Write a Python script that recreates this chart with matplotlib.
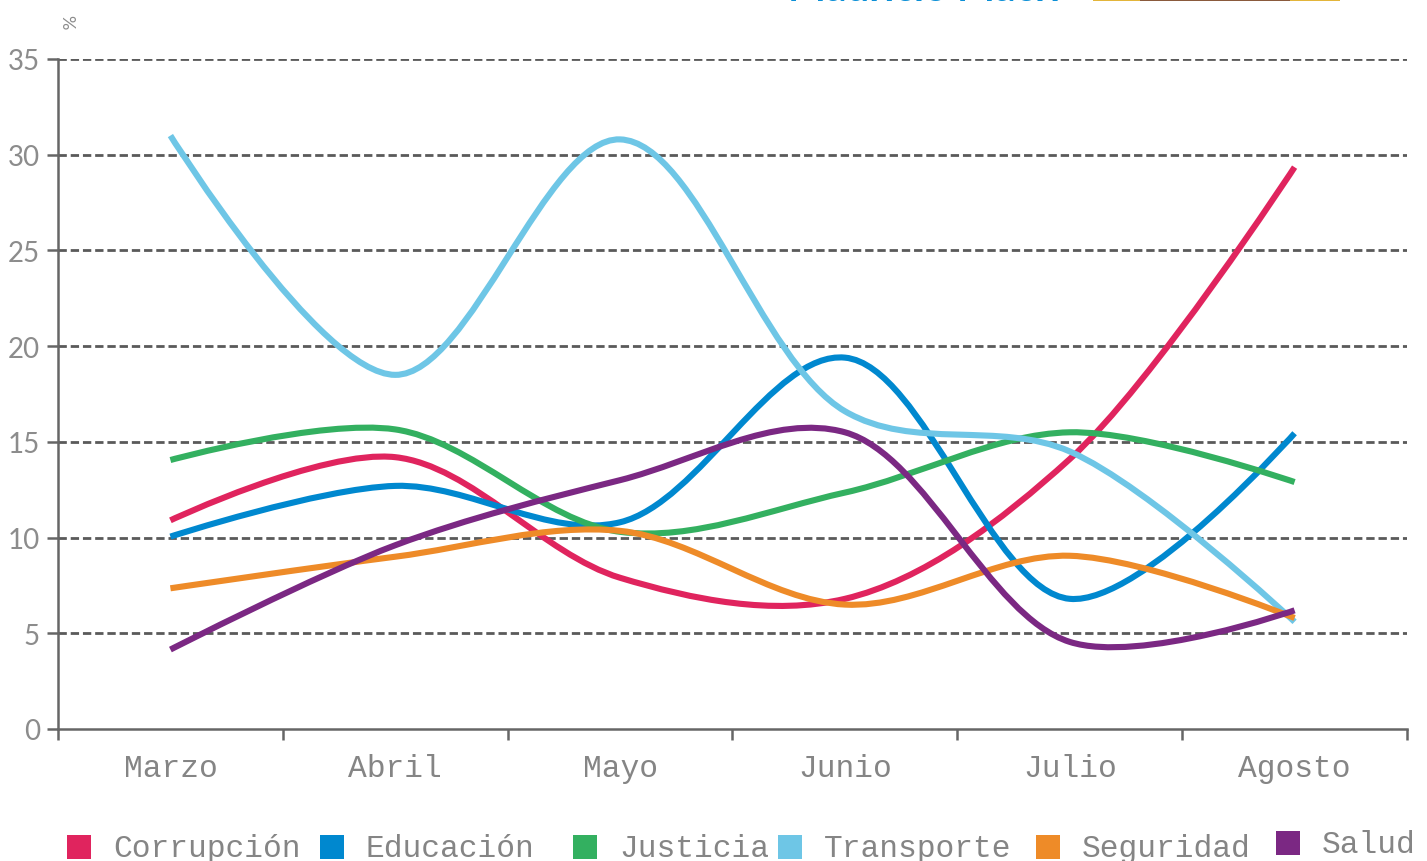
import numpy as np
import matplotlib
matplotlib.use('Agg')
import matplotlib.pyplot as plt
from matplotlib.path import Path
from matplotlib.patches import PathPatch, Rectangle
from matplotlib.ticker import FixedLocator, NullFormatter

# ---------------- data ----------------
months = ['Marzo', 'Abril', 'Mayo', 'Junio', 'Julio', 'Agosto']
series_names = ['Corrupción', 'Educación', 'Justicia', 'Transporte', 'Seguridad', 'Salud']
corrupcion = [10.9, 14.2, 7.9, 6.8, 14.1, 29.35]
educacion = [10.05, 12.7, 10.8, 19.4, 6.8, 15.45]
justicia = [14.05, 15.65, 10.3, 12.35, 15.5, 12.9]
transporte = [31.0, 18.5, 30.8, 16.6, 14.5, 5.6]
seguridad = [7.35, 9.0, 10.35, 6.5, 9.05, 5.8]
salud = [4.15, 9.6, 13.0, 15.5, 4.55, 6.2]
colors = ['#e0245e', '#0088cf', '#33b060', '#6ec6e6', '#ee8b28', '#7b2883']
y_ticks = [0, 5, 10, 15, 20, 25, 30, 35]

series = [corrupcion, educacion, justicia, transporte, seguridad, salud]

W, H = 1427, 862
fig = plt.figure(figsize=(W / 100, H / 100), dpi=100)
fig.patch.set_facecolor('white')
ax = fig.add_axes([58 / W, (H - 730) / H, (1407 - 58) / W, (730 - 60) / H])
n = len(months)
ax.set_xlim(-0.5, n - 0.5)
ax.set_ylim(0, 35)

# grid
for v in y_ticks[1:]:
    ax.axhline(v, color='#5a5a5a', lw=2.0, linestyle=(0, (3.0, 1.4)), zorder=1)


def catmull_rom(P, alpha=0.5):
    """d3.curveCatmullRom bezier construction in pixel space."""
    eps = 1e-12
    verts = [P[0]]
    codes = [Path.MOVETO]
    m = len(P)
    for i in range(m - 1):
        p1, p2 = P[i], P[i + 1]
        p0 = P[i - 1] if i > 0 else None
        p3 = P[i + 2] if i + 2 < m else None
        l12 = np.linalg.norm(p2 - p1) ** alpha
        l12_2 = l12 ** 2
        c1 = p1.copy()
        if p0 is not None:
            l01 = np.linalg.norm(p1 - p0) ** alpha
            l01_2 = l01 ** 2
            if l01 > eps:
                a = 2 * l01_2 + 3 * l01 * l12 + l12_2
                nn = 3 * l01 * (l01 + l12)
                c1 = (p1 * a - p0 * l12_2 + p2 * l01_2) / nn
        c2 = p2.copy()
        if p3 is not None:
            l23 = np.linalg.norm(p3 - p2) ** alpha
            l23_2 = l23 ** 2
            if l23 > eps:
                b = 2 * l23_2 + 3 * l23 * l12 + l12_2
                mm = 3 * l23 * (l23 + l12)
                c2 = (p2 * b + p1 * l23_2 - p3 * l12_2) / mm
        verts += [c1, c2, p2]
        codes += [Path.CURVE4] * 3
    return np.array(verts), codes


xs = np.arange(n)
inv = ax.transData.inverted()
for vals, col in zip(series, colors):
    pix = ax.transData.transform(np.column_stack([xs, vals]))
    v, c = catmull_rom([np.array(p) for p in pix])
    vd = inv.transform(v)
    patch = PathPatch(Path(vd, c), facecolor='none', edgecolor=col, lw=4.4,
                      capstyle='butt', joinstyle='round', zorder=3)
    ax.add_patch(patch)

# spines
for s in ['top', 'right']:
    ax.spines[s].set_visible(False)
for s in ['left', 'bottom']:
    ax.spines[s].set_color('#666666')
    ax.spines[s].set_linewidth(1.8)

# x ticks: marks at band edges, labels at centres
ax.xaxis.set_major_locator(FixedLocator(np.arange(-0.5, n, 1.0)))
ax.xaxis.set_major_formatter(NullFormatter())
ax.xaxis.set_minor_locator(FixedLocator(xs))
ax.set_xticklabels(months, minor=True)
ax.tick_params(axis='x', which='major', length=8, width=1.8, color='#666666', direction='out')
ax.tick_params(axis='x', which='minor', length=0, pad=17, labelsize=22.5,
               labelcolor='#858585')
for t in ax.get_xticklabels(minor=True):
    t.set_fontfamily('Liberation Mono')

ax.set_yticks(y_ticks)
ax.set_yticklabels([str(v) for v in y_ticks])
ax.tick_params(axis='y', length=8, width=1.8, color='#666666', direction='out',
               pad=5, labelsize=20, labelcolor='#8c8c8c')
for t in ax.get_yticklabels():
    t.set_fontfamily('Lato')
    t.set_fontweight('normal')

# unit label
fig.text(66 / W, 1 - 22 / H, '%', rotation=-90, ha='center', va='center',
         fontsize=13, color='#8c8c8c', family='Lato')

# cut-off title and image strip at top
fig.text(788 / W, 1 - 1.0 / H, 'Mauricio Macri', ha='left', va='baseline',
         fontsize=29, weight='bold', color='#0b8fd6', family='Lato')
fig.patches.append(Rectangle((1093 / W, 1 - 2 / H), (1340 - 1093) / W, 2 / H,
                             transform=fig.transFigure, facecolor='#e3b53a',
                             edgecolor='none'))
fig.patches.append(Rectangle((1140 / W, 1 - 2 / H), (1290 - 1140) / W, 2 / H,
                             transform=fig.transFigure, facecolor='#8a5a3c',
                             edgecolor='none'))

# legend (manual)
sq_x = [67, 320, 573, 778, 1036, 1276]
sq_top = [836, 836, 836, 836, 836, 832]
for name, col, sx, st in zip(series_names, colors, sq_x, sq_top):
    fig.patches.append(Rectangle((sx / W, 1 - (st + 24) / H), 24 / W, 24 / H,
                                 transform=fig.transFigure, facecolor=col,
                                 edgecolor='none'))
    fig.text((sx + 46) / W, 1 - (st + 21) / H, name, ha='left', va='baseline',
             fontsize=22.5, color='#858585', family='Liberation Mono')

fig.savefig('out.png', dpi=100, facecolor='white')
